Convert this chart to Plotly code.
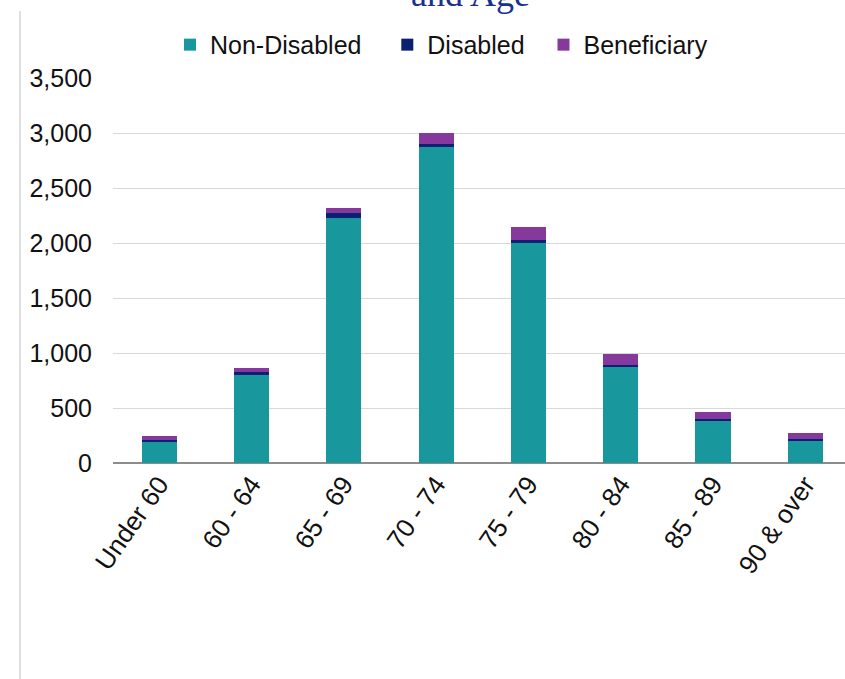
import plotly.graph_objects as go

categories = ["Under 60", "60 - 64", "65 - 69", "70 - 74", "75 - 79", "80 - 84", "85 - 89", "90 & over"]
non_disabled = [188, 809, 2227, 2873, 2009, 873, 382, 209]
disabled = [21, 18, 45, 27, 18, 18, 18, 6]
beneficiary = [34, 34, 46, 97, 121, 100, 66, 58]
y_ticks = [0, 500, 1000, 1500, 2000, 2500, 3000, 3500]
series_names = ["Non-Disabled", "Disabled", "Beneficiary"]

FONT = "Liberation Sans, Arial, sans-serif"
NB = "\u00a0"
legend_pad = [NB * 3, NB * 2, ""]

fig = go.Figure()
for name, vals, col, pad in zip(series_names, [non_disabled, disabled, beneficiary],
                                ["#18979C", "#0B1F73", "#86399C"], legend_pad):
    fig.add_trace(go.Bar(name=name + pad, x=categories, y=vals,
                         marker=dict(color=col, line=dict(width=0)),
                         hovertemplate=name + ": %{y}<extra></extra>"))

fig.update_layout(
    width=845, height=679,
    barmode="stack", bargap=0.62,
    plot_bgcolor="white", paper_bgcolor="white",
    margin=dict(l=113, r=0, t=78, b=216),
    font=dict(family=FONT, size=25, color="#111111"),
    showlegend=True,
    legend=dict(orientation="h", x=(170 - 113) / 732, xanchor="left", y=1.086, yanchor="middle",
                font=dict(size=25), itemwidth=30, traceorder="normal",
                bgcolor="rgba(0,0,0,0)"),
    xaxis=dict(range=[-0.5, 7.43], tickangle=-55, showgrid=False, showline=False,
               ticks="", tickfont=dict(size=26)),
    yaxis=dict(range=[0, 3500], tickvals=y_ticks, tickformat=",", showgrid=True,
               gridcolor="#D9D9D9", gridwidth=1, zeroline=True, zerolinecolor="#8C8C8C",
               zerolinewidth=1.5, showline=False, ticks="", ticklabelstandoff=20,
               tickfont=dict(size=25)),
    annotations=[dict(text="and Age", xref="paper", yref="paper", x=(470 - 113) / 732, y=1,
                      xanchor="center", yanchor="middle", yshift=84, showarrow=False,
                      font=dict(family="Liberation Serif, Times New Roman, serif",
                                size=36, color="#1B2F8C"))],
    shapes=[dict(type="line", xref="paper", yref="paper",
                 x0=-93 / 732, x1=-93 / 732, y0=-216 / 385, y1=1 + 67 / 385,
                 line=dict(color="#BFBFBF", width=1))],
)

fig.write_html("out.html", config={"displayModeBar": False},
               post_script="document.body.style.margin='0px';")
